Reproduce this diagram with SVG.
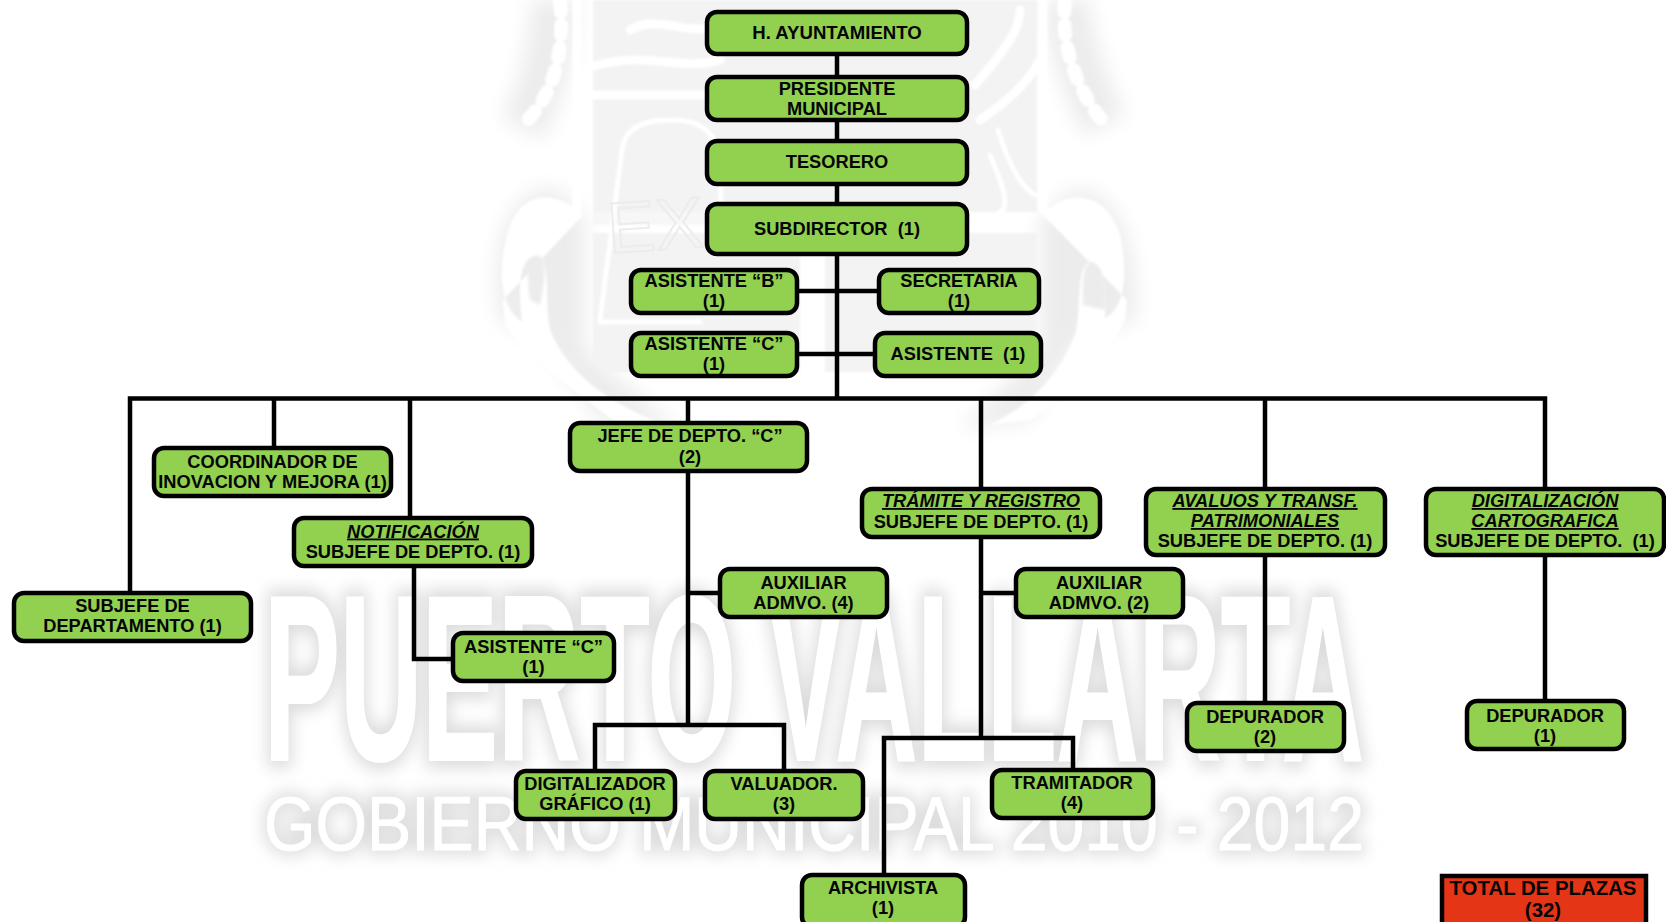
<svg xmlns="http://www.w3.org/2000/svg" width="1666" height="922" viewBox="0 0 1666 922">
<style>
.n{fill:#92D050;stroke:#000;stroke-width:4.500}
.c{fill:none;stroke:#000;stroke-width:4.500;stroke-linejoin:miter}
text{font-family:"Liberation Sans",Arial,sans-serif;font-weight:bold;font-size:18.250px;text-anchor:middle;fill:#050505;white-space:pre}
.u{font-style:italic;text-decoration:underline}
.big{font-size:235px}
.sub{font-size:76px;font-weight:normal}
.halo{fill:#dcdcdc;stroke:#dcdcdc}
.wt{fill:#fff;stroke:#fff}
.p{fill:#f3f3f3}
.g{fill:none;stroke:#fff;stroke-linecap:round}
</style>
<defs>
<filter id="b" x="-10%" y="-30%" width="120%" height="160%"><feGaussianBlur stdDeviation="8"/></filter>
<filter id="h" x="-20%" y="-20%" width="140%" height="140%"><feGaussianBlur stdDeviation="10"/></filter>
<filter id="s" x="-5%" y="-5%" width="110%" height="110%"><feGaussianBlur stdDeviation="1"/></filter>
</defs>
<rect width="1666" height="922" fill="#fff"/>
<g id="watermark">
<g filter="url(#h)">
<path fill="none" stroke="#ececec" stroke-width="46" d="M555 0Q550 80 522 128M1065 0Q1075 70 1105 125"/>
<path fill="#ececec" d="M500 320C485 230 520 180 560 190L585 220L585 350L680 430L600 420L540 340ZM1135 320C1140 230 1110 185 1070 190L1040 220L1040 350L960 430L1030 420L1080 340Z"/>
</g>
<g filter="url(#s)">
<path class="p" d="M593 0H1037V365Q1037 372 1030 372H825V233H1037V212H593ZM593 233H800V372H610Q593 372 593 355Z"/>
<path class="p" d="M593 212H800V225H593Z" fill-opacity=".7"/>
<path class="g" stroke-width="9" d="M577 0V210M1043 0V210"/>
<path class="g" stroke-width="9" d="M593 95H720M593 66C650 50 680 72 720 60M630 30C660 12 690 40 720 24M975 85C1005 50 1020 30 1020 10M980 120C1010 100 1030 80 1040 60"/>
<path class="g" stroke-width="5" d="M600 320L622 150Q625 120 670 120Q715 118 720 160L722 250M600 322H700M998 130C1010 170 1025 190 1035 195M990 155C1000 180 1012 205 1000 212"/>
<path class="g" stroke-width="14" stroke-dasharray="10 13" d="M560 2C565 50 555 95 522 126M1065 2C1060 50 1080 95 1105 124"/>
<path fill="#fff" d="M583 215C560 192 520 185 507 235C495 280 505 312 522 322C516 275 524 255 537 256C552 258 544 300 550 330C570 380 620 410 680 430L620 425C585 400 520 350 505 325L503 300Z"/>
<path fill="#fff" d="M1043 215C1060 192 1105 185 1120 235C1130 280 1122 310 1105 318C1108 280 1100 262 1090 262C1075 265 1082 310 1075 335C1060 370 1040 400 990 425L1030 420C1070 395 1115 345 1125 320L1127 300Z"/>
<path fill="#ececec" d="M530 300C525 270 530 256 538 256C548 258 545 280 540 305Z" filter="url(#s)"/>
<path fill="#ececec" d="M1083 305C1082 272 1085 262 1092 262C1102 266 1108 285 1105 310Z" filter="url(#s)"/>
</g>
<text class="sub" x="657" y="250" transform="rotate(-4 657 250)" style="font-size:72px;fill:none;stroke:#ececec;stroke-width:2;font-weight:normal">EX</text>
<g filter="url(#b)">
<text class="big halo" x="814" y="760" stroke-width="16" textLength="1100" lengthAdjust="spacingAndGlyphs">PUERTO VALLARTA</text>
<text class="sub halo" x="814" y="850" stroke-width="10" textLength="1100" lengthAdjust="spacingAndGlyphs">GOBIERNO MUNICIPAL 2010 - 2012</text>
</g>
<text class="big wt" x="814" y="760" stroke-width="2" textLength="1100" lengthAdjust="spacingAndGlyphs">PUERTO VALLARTA</text>
<text class="sub wt" x="814" y="850" stroke-width="1" textLength="1100" lengthAdjust="spacingAndGlyphs">GOBIERNO MUNICIPAL 2010 - 2012</text>
</g>
<g id="connectors">
<path class="c" d="M837 53V204M837 254V398M797 291H879M797 354H875"/>
<path class="c" d="M130 591V398.500H1545V487M274 398V446M410 398V516M688 398V421M981 398V487M1265 398V487"/>
<path class="c" d="M414 567V659H452"/>
<path class="c" d="M688 472V725M688 593H718M595 769V725H784V769"/>
<path class="c" d="M981 538V738M981 593H1015M884 873V738H1073V768"/>
<path class="c" d="M1265 556V701M1545 556V700"/>
</g>
<g id="n1"><rect class="n" x="707" y="12" width="260" height="42" rx="10"/><text x="837" y="38.500" style="font-size:18.600px">H. AYUNTAMIENTO</text></g>
<g id="n2"><rect class="n" x="707" y="77" width="260" height="43" rx="10"/><text x="837" y="94.500">PRESIDENTE</text><text x="837" y="114.500">MUNICIPAL</text></g>
<g id="n3"><rect class="n" x="707" y="141" width="260" height="43" rx="10"/><text x="837" y="167.500">TESORERO</text></g>
<g id="n4"><rect class="n" x="707" y="204" width="260" height="50" rx="10"/><text x="837" y="234.500">SUBDIRECTOR  (1)</text></g>
<g id="n5"><rect class="n" x="631" y="270" width="166" height="43" rx="10"/><text x="714" y="286.500">ASISTENTE “B”</text><text x="714" y="307">(1)</text></g>
<g id="n6"><rect class="n" x="879" y="270" width="160" height="43" rx="10"/><text x="959" y="286.500">SECRETARIA</text><text x="959" y="307">(1)</text></g>
<g id="n7"><rect class="n" x="631" y="333" width="166" height="43" rx="10"/><text x="714" y="349.500">ASISTENTE “C”</text><text x="714" y="370">(1)</text></g>
<g id="n8"><rect class="n" x="875" y="333" width="166" height="43" rx="10"/><text x="958" y="359.500">ASISTENTE  (1)</text></g>
<g id="n9"><rect class="n" x="154" y="448" width="237" height="48" rx="10"/><text x="272.500" y="468">COORDINADOR DE</text><text x="272.500" y="488">INOVACION Y MEJORA (1)</text></g>
<g id="n10"><rect class="n" x="294" y="518" width="238" height="48" rx="10"/><text class="u" x="413" y="537.500">NOTIFICACIÓN</text><text x="413" y="558">SUBJEFE DE DEPTO. (1)</text></g>
<g id="n11"><rect class="n" x="14" y="593" width="237" height="48" rx="10"/><text x="132.500" y="611.500">SUBJEFE DE</text><text x="132.500" y="631.500">DEPARTAMENTO (1)</text></g>
<g id="n12"><rect class="n" x="453" y="633" width="161" height="48" rx="10"/><text x="533.500" y="652.500">ASISTENTE “C”</text><text x="533.500" y="673">(1)</text></g>
<g id="n13"><rect class="n" x="570" y="423" width="237" height="48" rx="10"/><text x="690" y="442">JEFE DE DEPTO. “C”</text><text x="690" y="462.500">(2)</text></g>
<g id="n14"><rect class="n" x="720" y="569" width="167" height="48" rx="10"/><text x="803.500" y="589">AUXILIAR</text><text x="803.500" y="609">ADMVO. (4)</text></g>
<g id="n15"><rect class="n" x="516" y="771" width="159" height="48" rx="10"/><text x="595" y="789.500">DIGITALIZADOR</text><text x="595" y="809.500">GRÁFICO (1)</text></g>
<g id="n16"><rect class="n" x="705" y="771" width="158" height="48" rx="10"/><text x="784" y="789.500">VALUADOR.</text><text x="784" y="809.500">(3)</text></g>
<g id="n17"><rect class="n" x="862" y="489" width="238" height="48" rx="10"/><text class="u" x="981" y="507">TRÁMITE Y REGISTRO</text><text x="981" y="527.500">SUBJEFE DE DEPTO. (1)</text></g>
<g id="n18"><rect class="n" x="1016" y="569" width="167" height="48" rx="10"/><text x="1099" y="589">AUXILIAR</text><text x="1099" y="609">ADMVO. (2)</text></g>
<g id="n19"><rect class="n" x="992" y="770" width="161" height="48" rx="10"/><text x="1072" y="788.500">TRAMITADOR</text><text x="1072" y="809">(4)</text></g>
<g id="n20"><rect class="n" x="802" y="875" width="163" height="52" rx="10"/><text x="883" y="893.500">ARCHIVISTA</text><text x="883" y="914">(1)</text></g>
<g id="n21"><rect class="n" x="1146" y="489" width="239" height="66" rx="10"/><text class="u" x="1265" y="507">AVALUOS Y TRANSF.</text><text class="u" x="1265" y="527">PATRIMONIALES</text><text x="1265" y="547">SUBJEFE DE DEPTO. (1)</text></g>
<g id="n22"><rect class="n" x="1426" y="489" width="238" height="66" rx="10"/><text class="u" x="1545" y="507">DIGITALIZACIÓN</text><text class="u" x="1545" y="527">CARTOGRAFICA</text><text x="1545" y="547">SUBJEFE DE DEPTO.  (1)</text></g>
<g id="n23"><rect class="n" x="1187" y="703" width="157" height="48" rx="10"/><text x="1265" y="722.500">DEPURADOR</text><text x="1265" y="743">(2)</text></g>
<g id="n24"><rect class="n" x="1467" y="701" width="157" height="48" rx="10"/><text x="1545" y="721.500">DEPURADOR</text><text x="1545" y="742">(1)</text></g>
<g id="n25"><rect x="1442" y="876" width="204" height="50" fill="#E53517" stroke="#000" stroke-width="4.500"/><text x="1543" y="895" style="font-size:20.400px">TOTAL DE PLAZAS</text><text x="1543" y="917" style="font-size:20.400px">(32)</text></g>
</svg>
